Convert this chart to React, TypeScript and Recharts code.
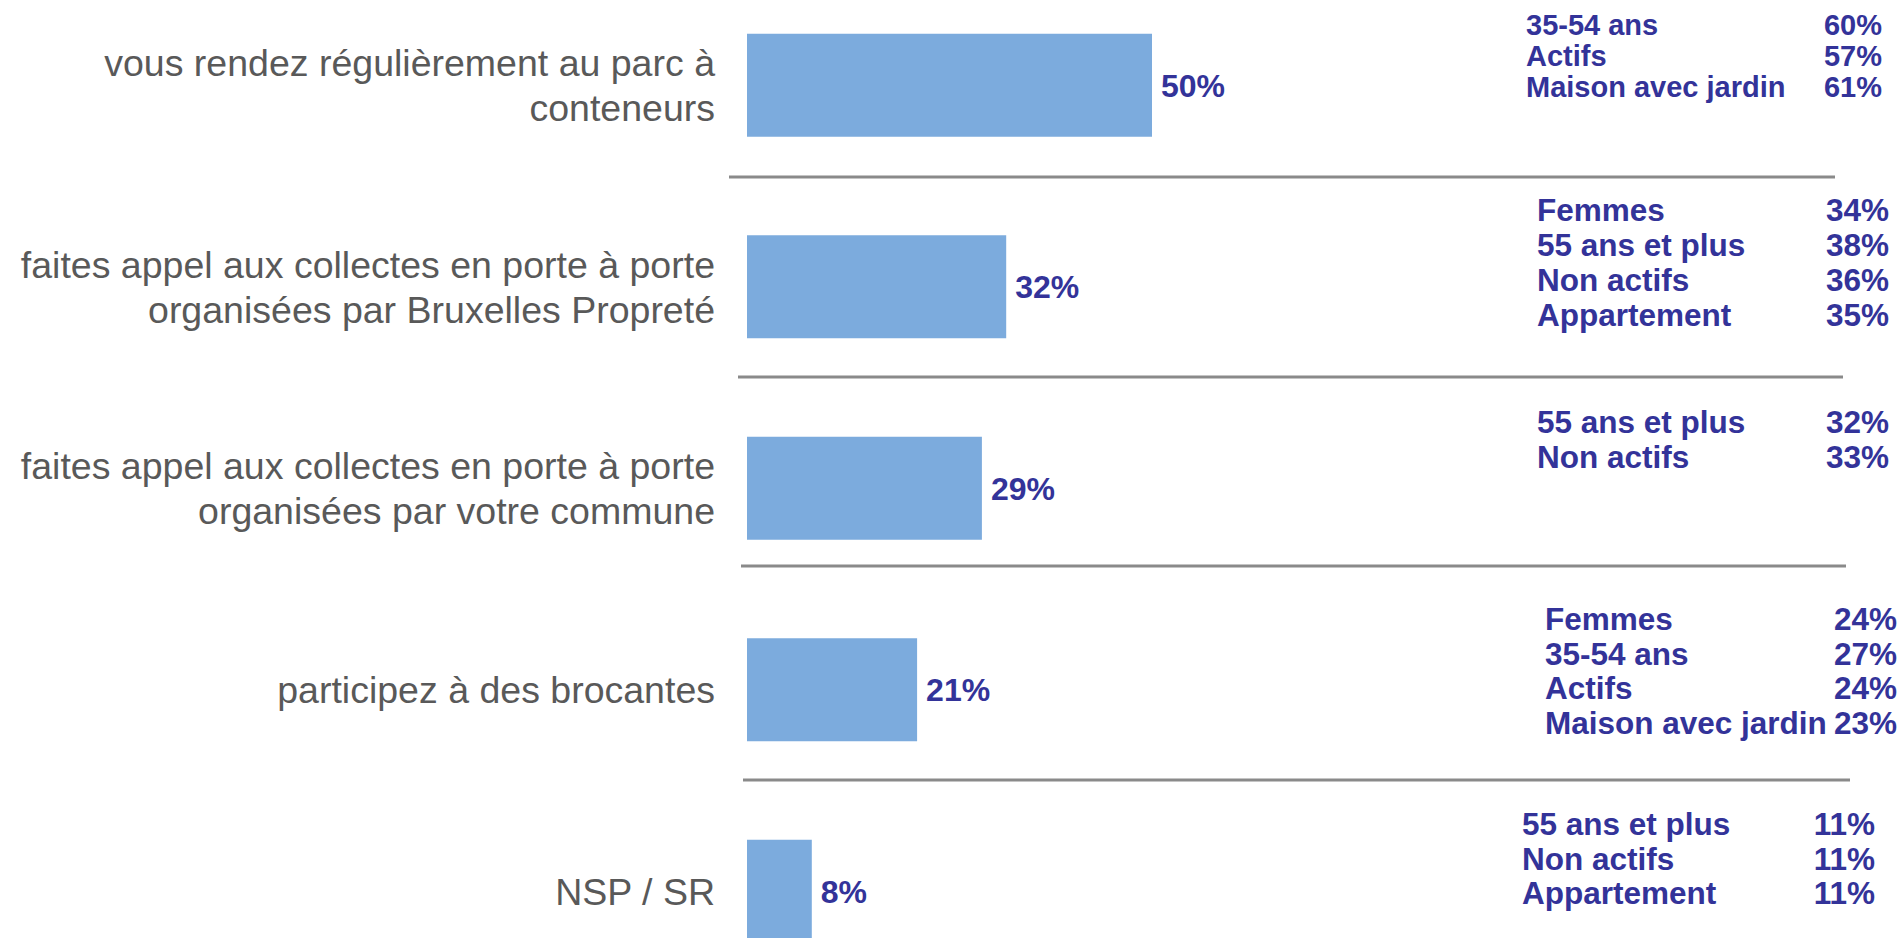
import React from 'react';
import { BarChart, Bar, XAxis, YAxis, LabelList } from 'recharts';

// survey answers, one bar each
const categories = [
  'vous rendez régulièrement au parc à\nconteneurs',
  'faites appel aux collectes en porte à porte\norganisées par Bruxelles Propreté',
  'faites appel aux collectes en porte à porte\norganisées par votre commune',
  'participez à des brocantes',
  'NSP / SR',
];
const values = [50, 32, 29, 21, 8];

// over-represented profiles, shown on the right of each row
const profileNames = [
  ['35-54 ans', 'Actifs', 'Maison avec jardin'],
  ['Femmes', '55 ans et plus', 'Non actifs', 'Appartement'],
  ['55 ans et plus', 'Non actifs'],
  ['Femmes', '35-54 ans', 'Actifs', 'Maison avec jardin'],
  ['55 ans et plus', 'Non actifs', 'Appartement'],
];
const profileValues = [
  [60, 57, 61],
  [34, 38, 36, 35],
  [32, 33],
  [24, 27, 24, 23],
  [11, 11, 11],
];

const data = categories.map((label, i) => ({ label, value: values[i] }));

// layout of the profile blocks (page x, offset from row centre)
const blockLayout = [
  { left: 1526, right: 1882, dy: -60.5, lh: 31, size: 29 },
  { left: 1537, right: 1889, dy: -77, lh: 35, size: 31.5 },
  { left: 1537, right: 1889, dy: -66.5, lh: 35, size: 31.5 },
  { left: 1545, right: 1897, dy: -71, lh: 34.7, size: 31.5 },
  { left: 1522, right: 1875, dy: -67.5, lh: 34.5, size: 31.5 },
];

// grey separator under each row (offset from row centre, page x)
const separators = [
  { dy: 91.5, from: 729, to: 1835 },
  { dy: 90, from: 738, to: 1843 },
  { dy: 77.5, from: 741, to: 1846 },
  { dy: 90, from: 743, to: 1850 },
];

const FONT = "'Liberation Sans', Arial, sans-serif";
const BLUE = '#333399';

const CategoryTick = (props: any) => {
  const { x, y, payload } = props;
  const lines = String(payload.value).split('\n');
  const lh = 45;
  const start = -((lines.length - 1) / 2) * lh;
  return (
    <text x={x} y={y} textAnchor="end" fill="#595959" fontSize={37.5} fontFamily={FONT}>
      {lines.map((l, i) => (
        <tspan key={i} x={x} y={y + start + i * lh} dominantBaseline="central">
          {l}
        </tspan>
      ))}
    </text>
  );
};

const ProfileTick = (props: any) => {
  const { y, index } = props;
  const names = profileNames[index] || [];
  const vals = profileValues[index] || [];
  const lay = blockLayout[index];
  const sep = separators[index];
  if (!lay) return null;
  return (
    <g>
      {sep && (
        <line
          x1={sep.from}
          x2={sep.to}
          y1={y + sep.dy}
          y2={y + sep.dy}
          stroke="#8a8a8a"
          strokeWidth={3}
        />
      )}
      {names.map((n, j) => {
        const ly = y + lay.dy + j * lay.lh;
        return (
          <g key={j} fontFamily={FONT} fontWeight="bold" fontSize={lay.size} fill={BLUE}>
            <text x={lay.left} y={ly} dominantBaseline="central">
              {n}
            </text>
            <text x={lay.right} y={ly} textAnchor="end" dominantBaseline="central">
              {vals[j]}%
            </text>
          </g>
        );
      })}
    </g>
  );
};

const App = () => {
  return (
    <div
      style={{
        position: 'fixed',
        left: 0,
        top: 0,
        width: 1901,
        height: 938,
        overflow: 'hidden',
        background: '#fff',
      }}
    >
      <div style={{ position: 'absolute', left: 0, top: -40 }}>
        <BarChart
          width={1901}
          height={1050}
          data={data}
          layout="vertical"
          margin={{ top: 24.75, right: 0, bottom: 17.75, left: 0 }}
        >
          <XAxis type="number" domain={[0, 100]} hide />
          <YAxis
            type="category"
            dataKey="label"
            width={747}
            axisLine={false}
            tickLine={false}
            tickSize={0}
            tickMargin={32}
            interval={0}
            tick={<CategoryTick />}
          />
          <YAxis
            yAxisId="profiles"
            orientation="right"
            type="category"
            dataKey="label"
            width={344}
            axisLine={false}
            tickLine={false}
            tickSize={0}
            tickMargin={0}
            interval={0}
            tick={<ProfileTick />}
          />
          <Bar dataKey="value" fill="#7CABDD" barSize={103} isAnimationActive={false}>
            <LabelList
              dataKey="value"
              position="right"
              offset={9}
              formatter={(v: any) => `${v}%`}
              fill={BLUE}
              fontSize={32}
              fontWeight="bold"
              fontFamily={FONT}
            />
          </Bar>
        </BarChart>
      </div>
    </div>
  );
};

export default App;
